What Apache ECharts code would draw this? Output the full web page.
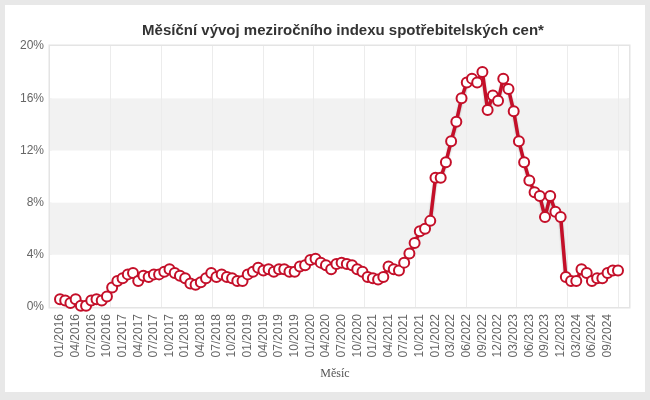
<!DOCTYPE html>
<html>
<head>
<meta charset="utf-8">
<title>Měsíční vývoj meziročního indexu spotřebitelských cen</title>
<script src="https://cdn.jsdelivr.net/npm/echarts@6/dist/echarts.min.js"></script>
<style>
  html, body { margin: 0; padding: 0; background: #e8e8e8; }
  #chart { position: absolute; left: 5px; top: 5px; width: 640px; height: 387px; background: #fff; }
</style>
</head>
<body>
<div id="chart"></div>
<script>
// meziroční změna CPI v %, po měsících (01/2022 je v datech dvakrát)
var cat2016 = ['01/2016', '02/2016', '03/2016', '04/2016', '05/2016', '06/2016', '07/2016', '08/2016', '09/2016', '10/2016', '11/2016', '12/2016']
var cat2017 = ['01/2017', '02/2017', '03/2017', '04/2017', '05/2017', '06/2017', '07/2017', '08/2017', '09/2017', '10/2017', '11/2017', '12/2017']
var cat2018 = ['01/2018', '02/2018', '03/2018', '04/2018', '05/2018', '06/2018', '07/2018', '08/2018', '09/2018', '10/2018', '11/2018', '12/2018']
var cat2019 = ['01/2019', '02/2019', '03/2019', '04/2019', '05/2019', '06/2019', '07/2019', '08/2019', '09/2019', '10/2019', '11/2019', '12/2019']
var cat2020 = ['01/2020', '02/2020', '03/2020', '04/2020', '05/2020', '06/2020', '07/2020', '08/2020', '09/2020', '10/2020', '11/2020', '12/2020']
var cat2021 = ['01/2021', '02/2021', '03/2021', '04/2021', '05/2021', '06/2021', '07/2021', '08/2021', '09/2021', '10/2021', '11/2021', '12/2021']
var cat2022 = ['01/2022', '01/2022', '02/2022', '03/2022', '04/2022', '05/2022', '06/2022', '07/2022', '08/2022', '09/2022', '10/2022', '11/2022', '12/2022']
var cat2023 = ['01/2023', '02/2023', '03/2023', '04/2023', '05/2023', '06/2023', '07/2023', '08/2023', '09/2023', '10/2023', '11/2023', '12/2023']
var cat2024 = ['01/2024', '02/2024', '03/2024', '04/2024', '05/2024', '06/2024', '07/2024', '08/2024', '09/2024', '10/2024', '11/2024']

var cpi2016 = [0.6, 0.5, 0.3, 0.6, 0.1, 0.1, 0.5, 0.6, 0.5, 0.8, 1.5, 2.0]
var cpi2017 = [2.2, 2.5, 2.6, 2.0, 2.4, 2.3, 2.5, 2.5, 2.7, 2.9, 2.6, 2.4]
var cpi2018 = [2.2, 1.8, 1.7, 1.9, 2.2, 2.6, 2.3, 2.5, 2.3, 2.2, 2.0, 2.0]
var cpi2019 = [2.5, 2.7, 3.0, 2.8, 2.9, 2.7, 2.9, 2.9, 2.7, 2.7, 3.1, 3.2]
var cpi2020 = [3.6, 3.7, 3.4, 3.2, 2.9, 3.3, 3.4, 3.3, 3.2, 2.9, 2.7, 2.3]
var cpi2021 = [2.2, 2.1, 2.3, 3.1, 2.9, 2.8, 3.4, 4.1, 4.9, 5.8, 6.0, 6.6]
var cpi2022 = [9.9, 9.9, 11.1, 12.7, 14.2, 16.0, 17.2, 17.5, 17.2, 18.0, 15.1, 16.2, 15.8]
var cpi2023 = [17.5, 16.7, 15.0, 12.7, 11.1, 9.7, 8.8, 8.5, 6.9, 8.5, 7.3, 6.9]
var cpi2024 = [2.3, 2.0, 2.0, 2.9, 2.6, 2.0, 2.2, 2.2, 2.6, 2.8, 2.8]

var yTicks = [0, 4, 8, 12, 16, 20]

var months = [].concat(cat2016, cat2017, cat2018, cat2019, cat2020, cat2021, cat2022, cat2023, cat2024)
var values = [].concat(cpi2016, cpi2017, cpi2018, cpi2019, cpi2020, cpi2021, cpi2022, cpi2023, cpi2024)

var red = '#c40f29'
var sans = '"Liberation Sans", Arial, sans-serif'

var chart = echarts.init(document.getElementById('chart'))
chart.setOption({
  animation: false,
  title: {
    text: 'Měsíční vývoj meziročního indexu spotřebitelských cen*',
    left: 333,
    top: 13,
    textAlign: 'center',
    textStyle: { fontFamily: sans, fontSize: 15, fontWeight: 'bold', color: '#333' }
  },
  grid: [
    // rámeček + pruhy
    { left: 45, right: 16, top: 41, bottom: 85, show: true, borderColor: '#e4e4e4', borderWidth: 3, backgroundColor: 'rgba(0,0,0,0)' },
    // vlastní data
    { left: 55, right: 27, top: 41, bottom: 85 }
  ],
  xAxis: [
    { gridIndex: 0, type: 'value', min: 0, max: 1, show: false },
    {
      gridIndex: 1,
      type: 'category',
      data: months,
      boundaryGap: false,
      axisLine: { show: false },
      axisTick: { show: false },
      splitLine: { show: false },
      axisLabel: { interval: 2, rotate: 90, margin: 7, fontSize: 12, color: '#666', fontFamily: sans },
      name: 'Měsíc',
      nameLocation: 'middle',
      nameGap: 61,
      nameTextStyle: { fontFamily: '"Liberation Serif", "Times New Roman", serif', fontSize: 12, color: '#555', padding: [0, 8, 0, 0] }
    },
    {
      gridIndex: 1,
      type: 'value',
      position: 'top',
      min: 0,
      max: 11,
      interval: 1,
      axisLine: { show: false },
      axisTick: { show: false },
      axisLabel: { show: false },
      splitLine: { show: true, showMinLine: false, lineStyle: { color: '#ececec', width: 1 } }
    }
  ],
  yAxis: [
    {
      gridIndex: 0,
      type: 'value',
      min: yTicks[0],
      max: yTicks[yTicks.length - 1],
      interval: 4,
      axisLine: { show: false },
      axisTick: { show: false },
      splitLine: { show: false },
      splitArea: { show: true, areaStyle: { color: ['#ffffff', '#f2f2f2'] } },
      axisLabel: { formatter: '{value}%', fontSize: 12, color: '#666', fontFamily: sans, margin: 6 }
    },
    { gridIndex: 1, type: 'value', min: 0, max: 20, interval: 4, show: false }
  ],
  series: [
    {
      type: 'line',
      xAxisIndex: 1,
      yAxisIndex: 1,
      data: values,
      symbol: 'circle',
      symbolSize: 10,
      showAllSymbol: true,
      lineStyle: { width: 3.5, color: red, shadowColor: 'rgba(0,0,0,0.25)', shadowBlur: 2, shadowOffsetY: 1 },
      itemStyle: { color: '#fff', borderColor: red, borderWidth: 2 }
    }
  ]
})
</script>
</body>
</html>
